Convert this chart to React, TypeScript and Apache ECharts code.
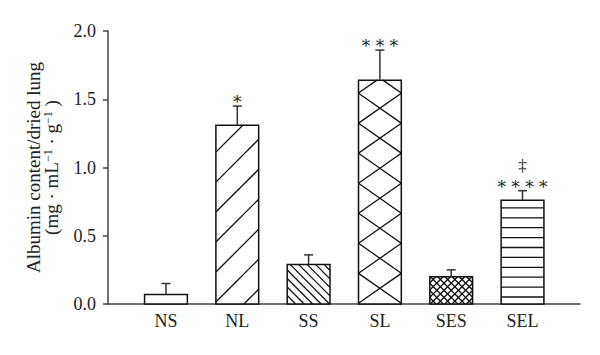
import React, { useEffect, useRef } from "react";
import * as echarts from "echarts";

const categories = ["NS", "NL", "SS", "SL", "SES", "SEL"];
const means = [0.07, 1.31, 0.29, 1.64, 0.2, 0.76];
const errors = [0.08, 0.14, 0.07, 0.22, 0.05, 0.07];
const significance = ["", "*", "", "* * *", "", "* * * *"];
const daggers = ["", "", "", "", "", "‡"];

// hatch families per bar: angle (deg, visual ccw), spacing (px), offset, anchor
type Hatch = { angle: number; spacing: number; offset: number; anchor: "bl" | "topCenter" };
const hatches: Hatch[][] = [
  [],
  [{ angle: 45, spacing: 21.2, offset: 19.8, anchor: "bl" }],
  [{ angle: -45, spacing: 6, offset: 0, anchor: "bl" }],
  [
    { angle: 35, spacing: 24.6, offset: 0, anchor: "topCenter" },
    { angle: -35, spacing: 24.6, offset: 0, anchor: "topCenter" },
  ],
  [
    { angle: 45, spacing: 5.1, offset: 0, anchor: "topCenter" },
    { angle: -45, spacing: 5.1, offset: 0, anchor: "topCenter" },
  ],
  [{ angle: 0, spacing: 9.9, offset: -7, anchor: "bl" }],
];

const FONT = "'Liberation Serif', 'Times New Roman', serif";
const STAR_FONT = "'DejaVu Serif', 'Liberation Serif', serif";

function hatchLines(x0: number, y0: number, x1: number, y1: number, h: Hatch, rx: number, ry: number) {
  const a = (h.angle * Math.PI) / 180;
  const dx = Math.cos(a), dy = -Math.sin(a);
  const nx = -dy, ny = dx; // normal
  const corners = [[x0, y0], [x1, y0], [x0, y1], [x1, y1]];
  const cs = corners.map(([px, py]) => nx * (px - rx) + ny * (py - ry) - h.offset);
  const cmin = Math.min(...cs), cmax = Math.max(...cs);
  const segs: number[][] = [];
  for (let k = Math.ceil(cmin / h.spacing); k <= Math.floor(cmax / h.spacing); k++) {
    const c = k * h.spacing + h.offset;
    const px = rx + c * nx, py = ry + c * ny;
    let tmin = -1e9, tmax = 1e9;
    if (Math.abs(dx) > 1e-9) {
      const ta = (x0 - px) / dx, tb = (x1 - px) / dx;
      tmin = Math.max(tmin, Math.min(ta, tb));
      tmax = Math.min(tmax, Math.max(ta, tb));
    } else if (px < x0 || px > x1) continue;
    if (Math.abs(dy) > 1e-9) {
      const ta = (y0 - py) / dy, tb = (y1 - py) / dy;
      tmin = Math.max(tmin, Math.min(ta, tb));
      tmax = Math.min(tmax, Math.max(ta, tb));
    } else if (py < y0 || py > y1) continue;
    if (tmax - tmin > 0.5) {
      segs.push([px + tmin * dx, py + tmin * dy, px + tmax * dx, py + tmax * dy]);
    }
  }
  return segs;
}

export default function App() {
  const ref = useRef<HTMLDivElement>(null);
  useEffect(() => {
    if (!ref.current) return;
    const chart = echarts.init(ref.current, null, { renderer: "svg" });
    const barData = categories.map((_, i) => [i, means[i]]);
    const errData = categories.map((_, i) => [i, means[i], means[i] + errors[i]]);
    chart.setOption({
      animation: false,
      grid: { left: 108, right: 20, top: 31, bottom: 51 },
      xAxis: {
        type: "value",
        min: -0.813,
        max: 5.806,
        splitLine: { show: false },
        axisTick: { show: false },
        axisLine: { show: true, onZero: false, lineStyle: { color: "#444", width: 1.5 } },
        axisLabel: {
          customValues: [0, 1, 2, 3, 4, 5],
          formatter: (v: number) => categories[Math.round(v)] ?? "",
          fontFamily: FONT,
          fontSize: 18,
          color: "#222",
          margin: 8,
        },
      },
      yAxis: {
        type: "value",
        min: 0,
        max: 2,
        interval: 0.5,
        splitLine: { show: false },
        axisLine: { show: true, onZero: false, lineStyle: { color: "#444", width: 1.5 } },
        axisTick: { show: true, length: 5, lineStyle: { color: "#444", width: 1.5 } },
        axisLabel: {
          formatter: (v: number) => v.toFixed(1),
          fontFamily: FONT,
          fontSize: 18,
          color: "#222",
          margin: 12,
        },
        name: "{a|Albumin content/dried lung}\n{b|(mg · mL}{s|−1}{b| · g}{s|−1}{b| )}",
        nameLocation: "middle",
        nameGap: 48,
        nameTextStyle: {
          fontFamily: FONT,
          color: "#222",
          rich: {
            a: { fontFamily: FONT, fontSize: 19, lineHeight: 18, color: "#222" },
            b: { fontFamily: FONT, fontSize: 19, lineHeight: 18, color: "#222" },
            s: { fontFamily: FONT, fontSize: 12, lineHeight: 18, verticalAlign: "top", color: "#222" },
          },
        },
      },
      series: [
        {
          type: "custom",
          silent: true,
          data: barData,
          renderItem: (params: any, api: any) => {
            const i = api.value(0);
            const v = api.value(1);
            const [cx, top] = api.coord([i, v]);
            const [, base] = api.coord([i, 0]);
            const w = api.size([1, 0])[0] * 0.6;
            const x0 = cx - w / 2, x1 = cx + w / 2;
            const children: any[] = [
              {
                type: "rect",
                shape: { x: x0, y: top, width: w, height: base - top },
                style: { fill: "#fff", stroke: "none" },
              },
            ];
            for (const h of hatches[params.dataIndex] || []) {
              const rx = h.anchor === "bl" ? x0 : cx;
              const ry = h.anchor === "bl" ? base : top + 28;
              for (const s of hatchLines(x0, top, x1, base, h, rx, ry)) {
                children.push({
                  type: "line",
                  shape: { x1: s[0], y1: s[1], x2: s[2], y2: s[3] },
                  style: { stroke: "#111", lineWidth: 1.3 },
                });
              }
            }
            children.push({
              type: "rect",
              shape: { x: x0, y: top, width: w, height: base - top },
              style: { fill: "none", stroke: "#111", lineWidth: 1.5 },
            });
            return { type: "group", children };
          },
        },
        {
          type: "custom",
          silent: true,
          data: errData,
          z: 3,
          renderItem: (params: any, api: any) => {
            const i = api.value(0);
            const [cx, top] = api.coord([i, api.value(1)]);
            const [, et] = api.coord([i, api.value(2)]);
            const idx = params.dataIndex;
            const children: any[] = [
              { type: "line", shape: { x1: cx, y1: top, x2: cx, y2: et }, style: { stroke: "#333", lineWidth: 1.5 } },
              { type: "line", shape: { x1: cx - 4.5, y1: et, x2: cx + 4.5, y2: et }, style: { stroke: "#333", lineWidth: 1.5 } },
            ];
            if (significance[idx]) {
              children.push({
                type: "text",
                style: {
                  x: cx,
                  y: et - 4,
                  text: significance[idx],
                  fontFamily: STAR_FONT,
                  fontSize: 17,
                  fill: "#222",
                  align: "center",
                  verticalAlign: "middle",
                },
              });
            }
            if (daggers[idx]) {
              children.push({
                type: "text",
                style: {
                  x: cx,
                  y: et - 25,
                  text: daggers[idx],
                  fontFamily: FONT,
                  fontSize: 17,
                  fill: "#222",
                  align: "center",
                  verticalAlign: "middle",
                },
              });
            }
            return { type: "group", children };
          },
        },
      ],
    });
    return () => chart.dispose();
  }, []);
  return <div ref={ref} style={{ position: "absolute", left: 0, top: 0, width: 600, height: 355 }} />;
}
